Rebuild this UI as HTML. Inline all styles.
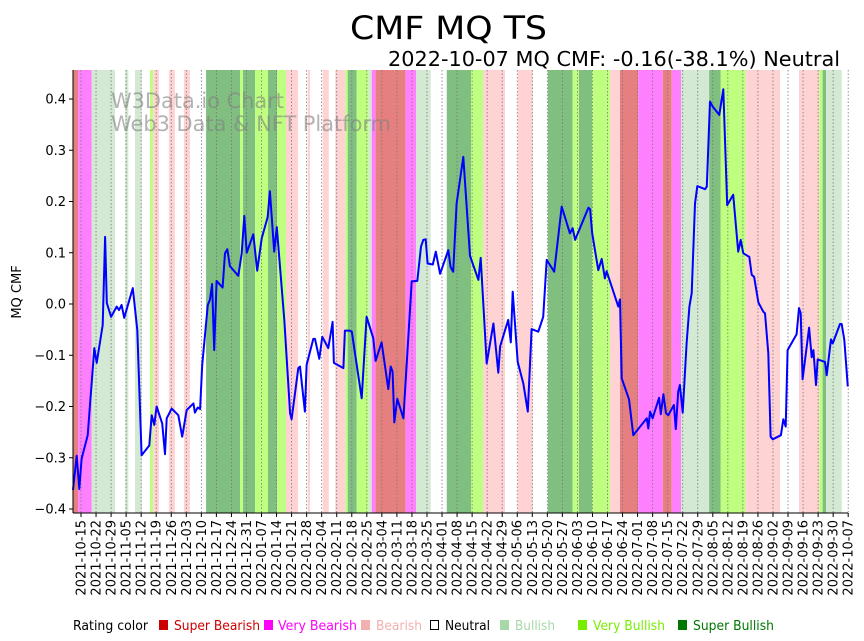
<!DOCTYPE html>
<html><head><meta charset="utf-8"><style>
html,body{margin:0;padding:0;background:#fff;}
svg{display:block;font-family:"DejaVu Sans","Liberation Sans",sans-serif;}
</style></head><body>
<svg id="chart" width="864" height="641" viewBox="0 0 864 641" xmlns="http://www.w3.org/2000/svg">
<text x="448.5" y="39" font-size="32" text-anchor="middle" fill="#000" textLength="197" lengthAdjust="spacingAndGlyphs">CMF MQ TS</text>
<text x="388" y="66" font-size="20" fill="#000" textLength="452" lengthAdjust="spacingAndGlyphs">2022-10-07 MQ CMF: -0.16(-38.1%) Neutral</text>
<g id="bands"></g>
<g id="grid"></g>
<g fill="#808080" fill-opacity="0.6" font-size="21">
<text x="111" y="108" textLength="173" lengthAdjust="spacingAndGlyphs">W3Data.io Chart</text>
<text x="111" y="131" textLength="280" lengthAdjust="spacingAndGlyphs">Web3 Data &amp; NFT Platform</text>
</g>
<path id="line" fill="none" stroke="#0000ff" stroke-width="2" stroke-linejoin="round"/>
<g id="axes"></g>
<text transform="translate(21,292) rotate(-90)" font-size="13" text-anchor="middle">MQ CMF</text>
<g font-size="13">
<text x="73" y="630" fill="#000" textLength="75" lengthAdjust="spacingAndGlyphs">Rating color</text>
<rect x="159" y="620" width="9" height="10" fill="#cc0000"/>
<text x="174" y="630" fill="#cc0000" textLength="86" lengthAdjust="spacingAndGlyphs">Super Bearish</text>
<rect x="264" y="620" width="9" height="10" fill="#ff00ff"/>
<text x="278" y="630" fill="#ff00ff" textLength="79" lengthAdjust="spacingAndGlyphs">Very Bearish</text>
<rect x="361" y="620" width="9" height="10" fill="#f4b0b0"/>
<text x="376" y="630" fill="#f4b0b0" textLength="46" lengthAdjust="spacingAndGlyphs">Bearish</text>
<rect x="430.5" y="620.5" width="8" height="9" fill="#fff" stroke="#000"/>
<text x="445" y="630" fill="#000" textLength="45" lengthAdjust="spacingAndGlyphs">Neutral</text>
<rect x="500" y="620" width="9" height="10" fill="#a8d8a8"/>
<text x="515" y="630" fill="#a8d8a8" textLength="40" lengthAdjust="spacingAndGlyphs">Bullish</text>
<rect x="578" y="620" width="9" height="10" fill="#77ee00"/>
<text x="593" y="630" fill="#77ee00" textLength="72" lengthAdjust="spacingAndGlyphs">Very Bullish</text>
<rect x="678" y="620" width="9" height="10" fill="#007700"/>
<text x="693" y="630" fill="#007700" textLength="81" lengthAdjust="spacingAndGlyphs">Super Bullish</text>
</g>
</svg>
<script>
// days relative to 2021-10-15
const days = [-3.7,-2.0,-0.8,0.3,3.1,5.7,6.2,7.3,10.1,11.2,12.0,14.0,16.6,17.7,18.9,20.1,24.1,26.2,28.2,31.8,32.9,34.1,35.2,37.8,39.1,39.9,42.2,45.3,47.1,49.2,52.3,53.0,54.3,55.4,56.4,59.0,60.0,61.0,62.0,63.1,65.9,67.0,68.1,69.3,73.2,74.8,76.0,77.1,80.2,82.0,84.1,86.9,87.9,89.9,91.1,94.6,97.3,98.0,101.1,101.9,104.2,105.0,108.1,108.9,110.9,112.3,115.1,117.1,117.7,122.1,122.8,124.8,126.0,130.6,132.9,136.0,137.1,139.9,143.0,144.1,145.0,145.8,147.2,150.0,153.9,156.5,158.2,159.3,160.4,161.3,163.7,165.1,167.1,170.9,172.0,173.2,174.8,177.9,181.0,184.9,186.0,188.8,191.9,194.2,195.0,198.8,200.0,200.9,203.2,205.8,207.9,209.7,212.8,215.1,216.7,220.2,223.7,227.5,228.8,229.9,236.1,236.9,237.9,240.7,242.3,243.8,244.6,250.0,250.8,251.6,255.0,257.0,263.3,264.0,264.8,266.0,269.0,269.8,271.0,272.2,273.3,275.9,276.8,277.9,278.7,280.0,281.8,283.1,284.2,285.7,286.8,290.4,291.2,292.7,294.0,297.0,298.9,300.7,303.5,305.8,307.0,308.2,311.0,312.1,313.2,315.2,317.5,318.3,319.8,320.9,321.9,325.7,326.8,327.9,328.8,333.0,334.1,334.9,335.8,338.8,340.0,340.8,342.0,342.8,346.2,347.0,348.2,349.0,349.8,353.2,354.0,355.2,356.8];
const cmf = [-0.363,-0.296,-0.361,-0.302,-0.256,-0.115,-0.086,-0.115,-0.041,0.131,0.002,-0.025,-0.005,-0.012,-0.002,-0.027,0.031,-0.051,-0.295,-0.276,-0.217,-0.236,-0.200,-0.233,-0.293,-0.223,-0.204,-0.217,-0.259,-0.207,-0.194,-0.212,-0.202,-0.205,-0.119,-0.002,0.008,0.039,-0.090,0.045,0.032,0.099,0.107,0.074,0.055,0.099,0.172,0.100,0.136,0.065,0.128,0.170,0.220,0.102,0.150,-0.031,-0.213,-0.225,-0.125,-0.122,-0.210,-0.119,-0.068,-0.068,-0.107,-0.064,-0.086,-0.035,-0.115,-0.125,-0.052,-0.052,-0.054,-0.184,-0.025,-0.067,-0.111,-0.075,-0.166,-0.122,-0.132,-0.231,-0.185,-0.223,0.044,0.045,0.112,0.125,0.126,0.079,0.077,0.102,0.059,0.105,0.072,0.063,0.196,0.287,0.094,0.047,0.090,-0.116,-0.038,-0.134,-0.083,-0.031,-0.075,0.024,-0.113,-0.155,-0.210,-0.049,-0.054,-0.025,0.086,0.063,0.190,0.138,0.148,0.125,0.188,0.185,0.138,0.066,0.088,0.050,0.064,-0.005,0.009,-0.145,-0.186,-0.256,-0.223,-0.243,-0.210,-0.223,-0.183,-0.215,-0.176,-0.213,-0.217,-0.197,-0.244,-0.171,-0.158,-0.212,-0.077,-0.005,0.021,0.196,0.230,0.224,0.229,0.395,0.385,0.369,0.419,0.193,0.213,0.102,0.125,0.099,0.092,0.057,0.053,0.003,-0.015,-0.018,-0.096,-0.259,-0.264,-0.256,-0.225,-0.239,-0.090,-0.059,-0.008,-0.018,-0.147,-0.046,-0.104,-0.090,-0.158,-0.108,-0.113,-0.139,-0.096,-0.069,-0.077,-0.039,-0.039,-0.070,-0.161];
// rating bands: start day, end day, rating
const bandStart = [-3.7,-1.3,5.0,20.5,25.1,32.1,33.6,40.9,47.9,58.2,74,75.4,81,87,91.3,95.4,105.5,112.5,118.3,123,124.1,128.3,133.9,135.3,137.1,151.1,155.9,170.2,181.5,187.2,203.2,217.2,228.8,231.7,237.9,246.2,250.8,259.3,270.7,274.9,279.2,292.3,297.7,309.3,334.1,343.6,345.1,346.7];
const bandEnd   = [-1.3,5.0,15.8,22,28.2,33.6,36.3,43.7,50.7,74,75.4,81,87,91.3,95.4,101,106.6,115.3,123,124.1,128.3,133.9,135.3,137.1,151.1,155.9,162.7,181.5,187.2,197.3,210.2,228.8,231.7,237.9,246.2,250.8,259.3,270.7,274.9,279.2,292.3,297.7,309.3,325.3,343.6,345.1,346.7,354];
const bandRating = ["superBearish","veryBearish","bullish","bullish","bullish","veryBullish","bearish","bearish","bearish","superBullish","veryBullish","superBullish","veryBullish","superBullish","veryBullish","bearish","bearish","bearish","bearish","veryBullish","superBullish","veryBullish","bullish","veryBearish","superBearish","veryBearish","bullish","superBullish","veryBullish","bearish","bearish","superBullish","veryBullish","superBullish","veryBullish","bearish","superBearish","veryBearish","superBearish","veryBearish","bullish","superBullish","veryBullish","bearish","bearish","veryBullish","superBullish","bullish"];
const yTicks = [-0.4,-0.3,-0.2,-0.1,0.0,0.1,0.2,0.3,0.4];
const yTickLabels = ["\u22120.4","\u22120.3","\u22120.2","\u22120.1","0.0","0.1","0.2","0.3","0.4"];

const ratingColor = {superBearish:"#e68080",veryBearish:"#ff80ff",bearish:"#ffd3d3",bullish:"#d3e9d3",veryBullish:"#bfff80",superBullish:"#80bf80"};
const NS="http://www.w3.org/2000/svg";
const X0=73, X1=848, Y0=70, Y1=513;
const xs = d => 81 + d*2.149;
const ys = v => 304 - v*512.5;
function mk(tag, attrs, parent){const e=document.createElementNS(NS,tag);for(const k in attrs)e.setAttribute(k,attrs[k]);parent.appendChild(e);return e;}

const gB=document.getElementById('bands');
for(let i=0;i<bandStart.length;i++){
  const r=mk('rect',{x:xs(bandStart[i]),y:Y0,width:Math.max(0,xs(bandEnd[i])-xs(bandStart[i])),height:Y1-Y0,fill:ratingColor[bandRating[i]]},gB);
  
  
}
const gG=document.getElementById('grid'), gA=document.getElementById('axes');
const base=new Date(Date.UTC(2021,9,15));
for(let w=0;w<=51;w++){
  const x=xs(w*7);
  const l=mk('line',{x1:x,x2:x,y1:Y0,y2:Y1,stroke:"#777",'stroke-width':0.8,'stroke-dasharray':"1.5,2"},gG);
  
  
  const t=mk('line',{x1:x,x2:x,y1:Y1,y2:Y1+4,stroke:"#000",'stroke-width':1},gA);
  
  
  const dt=new Date(base.getTime()+w*7*86400000);
  const s=dt.toISOString().slice(0,10);
  const tx=mk('text',{transform:`translate(${x+4.5},${Y1+7}) rotate(-90)`,'font-size':13,'text-anchor':'end'},gA);
  tx.textContent=s;
  
  
}
for(let i=0;i<yTicks.length;i++){
  const y=ys(yTicks[i]);
  const t=mk('line',{x1:X0-4,x2:X0,y1:y,y2:y,stroke:"#000",'stroke-width':1},gA);
  
  
  const tx=mk('text',{x:X0-7,y:y+4.5,'font-size':13,'text-anchor':'end'},gA);
  tx.textContent=yTickLabels[i];
  
  
}
const sl=mk('line',{x1:X0,x2:X0,y1:Y0,y2:Y1,stroke:"#000",'stroke-width':1},gA);


const sb=mk('line',{x1:X0,x2:X1,y1:Y1,y2:Y1,stroke:"#000",'stroke-width':1},gA);


let d='';
for(let i=0;i<days.length;i++){d+=(i?'L':'M')+xs(days[i]).toFixed(1)+','+ys(cmf[i]).toFixed(1);}
document.getElementById('line').setAttribute('d',d);
</script>
</body></html>
